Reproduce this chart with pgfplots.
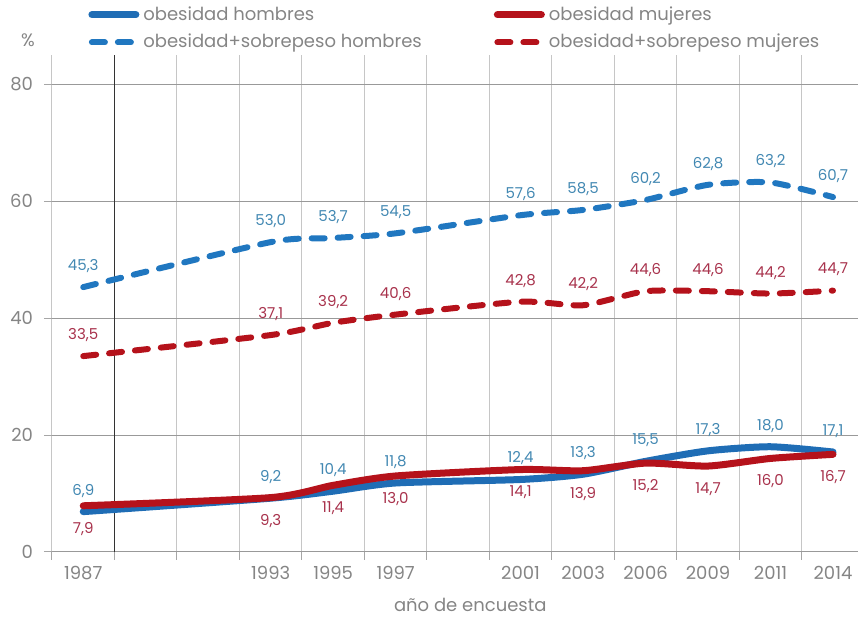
\documentclass[border=0pt]{standalone}
\usepackage{pgfplots}
\pgfplotsset{compat=1.18}
\usepackage{fontspec}
\setmainfont{Poppins}
\definecolor{hblue}{HTML}{1F6DB5}
\definecolor{hblued}{HTML}{2077C0}
\definecolor{mred}{HTML}{B5121B}
\definecolor{lblue}{HTML}{4288B2}
\definecolor{lred}{HTML}{A8324C}
\definecolor{txt}{HTML}{858585}
\begin{document}
\begin{tikzpicture}
\begin{axis}[
  name=ax,
  scale only axis, width=403pt, height=248.5pt,
  xmin=-0.5, xmax=12.4, ymin=0, ymax=85,
  clip=false,
  axis line style={draw=none},
  xtick={-0.5,0.5,...,11.5}, xticklabels={},
  extra x ticks={0,3,4,5,7,8,9,10,11,12},
  extra x tick labels={1987,1993,1995,1997,2001,2003,2006,2009,2011,2014},
  extra x tick style={grid=none, major tick length=0pt,
     xticklabel style={anchor=center, yshift=-10.5pt}},
  ytick={0,20,40,60,80},
  yticklabel style={xshift=-2pt},
  xtick pos=lower, ytick pos=left,
  tick align=outside, major tick length=4pt,
  tick style={gray!70, line width=0.5pt},
  xmajorgrids, ymajorgrids,
  x grid style={gray!45, line width=0.5pt},
  y grid style={gray!80, line width=0.5pt},
  ticklabel style={font=\fontsize{9}{10}\selectfont, text=txt},
  /pgf/number format/assume math mode=true,
  xlabel={año de encuesta},
  xlabel style={at={(axis description cs:0.519,0)}, anchor=center, yshift=-26.5pt,
     font=\fontsize{9}{10}\selectfont, text=txt},
  legend columns=2,
  legend cell align=left,
  legend style={at={(rel axis cs:0,1)}, anchor=north west, xshift=17pt, yshift=27.5pt,
     draw=none, fill=none, font=\fontsize{9}{10}\selectfont, text=txt,
     row sep=1.5pt, inner sep=1pt,
     /tikz/every even column/.append style={column sep=34pt}},
  legend image code/.code={\draw[#1] (0pt,0pt) -- (22pt,0pt);},
  smooth, tension=0.4,
]
\addplot[black!80, line width=0.7pt, forget plot, sharp plot] coordinates {(0.5,0) (0.5,85)};

\addplot[hblue, line width=3.5pt, line cap=round,
  nodes near coords={\pgfmathprintnumber[fixed,fixed zerofill,precision=1,use comma,assume math mode=true]{\pgfplotspointmeta}},
  every node near coord/.append style={lblue, anchor=center, yshift=10.5pt, inner sep=0pt, font=\fontsize{7.5}{8}\selectfont}]
  coordinates {(0,6.9) (3,9.2) (4,10.4) (5,11.8) (7,12.4) (8,13.3) (9,15.5) (10,17.3) (11,18.0) (12,17.1)};
\addlegendentry{obesidad hombres}

\addplot[mred, line width=3.5pt, line cap=round,
  nodes near coords={\pgfmathprintnumber[fixed,fixed zerofill,precision=1,use comma,assume math mode=true]{\pgfplotspointmeta}},
  every node near coord/.append style={lred, anchor=center, yshift=-11.5pt, inner sep=0pt, font=\fontsize{7.5}{8}\selectfont}]
  coordinates {(0,7.9) (3,9.3) (4,11.4) (5,13.0) (7,14.1) (8,13.9) (9,15.2) (10,14.7) (11,16.0) (12,16.7)};
\addlegendentry{obesidad mujeres}

\addplot[hblued, line width=3pt, line cap=round, dash pattern=on 6.5pt off 6.5pt,
  nodes near coords={\pgfmathprintnumber[fixed,fixed zerofill,precision=1,use comma,assume math mode=true]{\pgfplotspointmeta}},
  every node near coord/.append style={lblue, anchor=center, yshift=10.5pt, inner sep=0pt, font=\fontsize{7.5}{8}\selectfont}]
  coordinates {(0,45.3) (3,53.0) (4,53.7) (5,54.5) (7,57.6) (8,58.5) (9,60.2) (10,62.8) (11,63.2) (12,60.7)};
\addlegendentry{obesidad+sobrepeso hombres}

\addplot[mred, line width=3pt, line cap=round, dash pattern=on 6.5pt off 6.5pt,
  nodes near coords={\pgfmathprintnumber[fixed,fixed zerofill,precision=1,use comma,assume math mode=true]{\pgfplotspointmeta}},
  every node near coord/.append style={lred, anchor=center, yshift=10.5pt, inner sep=0pt, font=\fontsize{7.5}{8}\selectfont}]
  coordinates {(0,33.5) (3,37.1) (4,39.2) (5,40.6) (7,42.8) (8,42.2) (9,44.6) (10,44.6) (11,44.2) (12,44.7)};
\addlegendentry{obesidad+sobrepeso mujeres}

\node[text=txt, font=\fontsize{9}{10}\selectfont] at (rel axis cs:0,1) [xshift=-12pt, yshift=7.5pt] {\%};
\end{axis}
\pgfresetboundingbox
\path ([shift={(-26pt,-33pt)}]ax.south west) rectangle ([shift={(0pt,27.5pt)}]ax.north east);
\end{tikzpicture}
\end{document}
